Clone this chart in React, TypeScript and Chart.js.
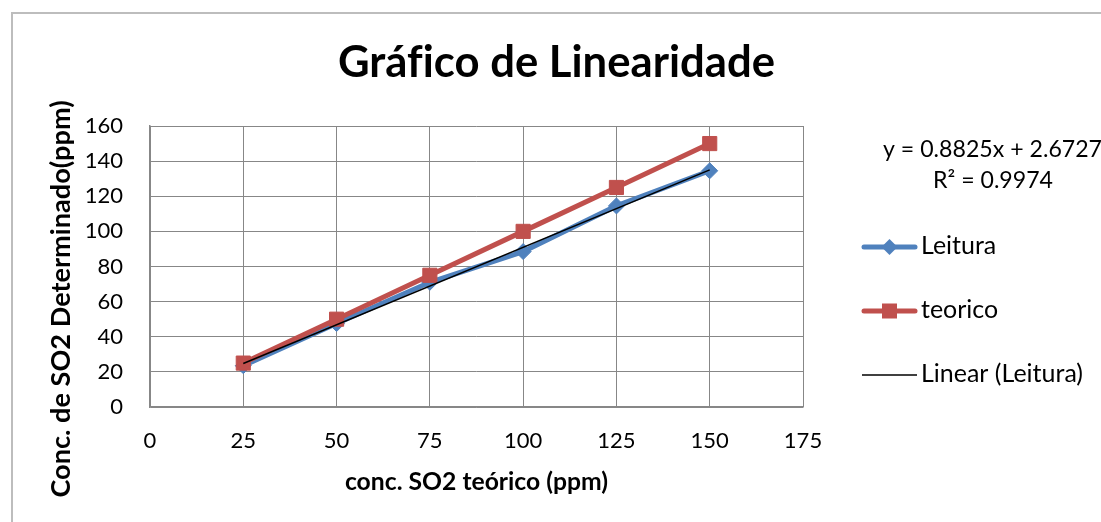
import React, { useEffect, useRef } from "react";
import { Chart, registerables } from "chart.js";

Chart.register(...registerables);

const xValues = [25, 50, 75, 100, 125, 150];
const leitura = [23.5, 47.5, 71, 88.5, 114.5, 134.5];
const teorico = [25, 50, 75, 100, 125, 150];
const trendCoef = [0.8825, 2.6727]; // slope, intercept (Excel trendline)
const trendRange = [25, 150];
const xTickRange = [0, 175, 25];
const yTickRange = [0, 160, 20];

const TITLE = "Gráfico de Linearidade";
const X_TITLE = "conc. SO2 teórico (ppm)";
const Y_TITLE = "Conc. de SO2 Determinado(ppm)";
const EQ1 = "y = 0.8825x + 2.6727";
const EQ2 = "R² = 0.9974";
const seriesNames = ["Leitura", "teorico", "Linear (Leitura)"];

const BLUE = "#4F81BD";
const RED = "#C0504D";
const GRID = "#878787";
const FONT = "Lato";

function fitSize(ctx: CanvasRenderingContext2D, text: string, weight: string, target: number) {
  ctx.font = `${weight} 100px ${FONT}`;
  const w = ctx.measureText(text).width;
  return (100 * target) / w;
}

const decorPlugin = {
  id: "decor",
  beforeDraw(chart: any) {
    const ctx = chart.ctx as CanvasRenderingContext2D;
    ctx.save();
    ctx.fillStyle = "#ffffff";
    ctx.fillRect(0, 0, chart.width, chart.height);
    ctx.strokeStyle = "#bdbdbd";
    ctx.lineWidth = 2;
    ctx.strokeRect(12, 13, chart.width + 20, chart.height + 20);
    ctx.restore();
  },
  afterDraw(chart: any) {
    const ctx = chart.ctx as CanvasRenderingContext2D;
    ctx.save();
    try {
      (ctx as any).letterSpacing = "0.01px";
    } catch (e) {}
    ctx.fillStyle = "#000";
    ctx.textAlign = "center";
    ctx.textBaseline = "alphabetic";
    // title
    let s = fitSize(ctx, TITLE, "bold", 437);
    ctx.font = `bold ${s}px ${FONT}`;
    ctx.fillText(TITLE, 556.5, 77);
    // x title
    s = fitSize(ctx, X_TITLE, "bold", 263);
    ctx.font = `bold ${s}px ${FONT}`;
    ctx.fillText(X_TITLE, 476.5, 490);
    // y title
    s = fitSize(ctx, Y_TITLE, "bold", 397);
    ctx.font = `bold ${s}px ${FONT}`;
    ctx.save();
    ctx.translate(70, 299);
    ctx.rotate(-Math.PI / 2);
    ctx.fillText(Y_TITLE, 0, 0);
    ctx.restore();
    // equation
    s = fitSize(ctx, EQ2, "normal", 120);
    ctx.font = `normal ${s}px ${FONT}`;
    ctx.textAlign = "left";
    ctx.fillText(EQ1, 883, 157);
    ctx.fillText(EQ2, 933, 188);
    // legend
    s = fitSize(ctx, seriesNames[2], "normal", 162);
    ctx.font = `normal ${s}px ${FONT}`;
    const items = [
      { name: seriesNames[0], y: 247, color: BLUE, lw: 5, marker: "diamond", base: 254 },
      { name: seriesNames[1], y: 311, color: RED, lw: 5, marker: "square", base: 318 },
      { name: seriesNames[2], y: 375, color: "#000", lw: 1.5, marker: "none", base: 382 },
    ];
    for (const it of items) {
      ctx.strokeStyle = it.color;
      ctx.lineWidth = it.lw;
      ctx.lineCap = it.marker === "none" ? "butt" : "round";
      ctx.beginPath();
      ctx.moveTo(it.marker === "none" ? 862 : 864, it.y);
      ctx.lineTo(it.marker === "none" ? 917 : 915, it.y);
      ctx.stroke();
      ctx.fillStyle = it.color;
      const cx = 889.5;
      if (it.marker === "diamond") {
        ctx.beginPath();
        ctx.moveTo(cx, it.y - 8);
        ctx.lineTo(cx + 8, it.y);
        ctx.lineTo(cx, it.y + 8);
        ctx.lineTo(cx - 8, it.y);
        ctx.closePath();
        ctx.fill();
      } else if (it.marker === "square") {
        ctx.fillRect(cx - 7.5, it.y - 7.5, 15, 15);
      }
      ctx.fillStyle = "#000";
      ctx.fillText(it.name, 921, it.base);
    }
    ctx.restore();
  },
};

export default function App() {
  const ref = useRef<HTMLCanvasElement | null>(null);
  useEffect(() => {
    if (!ref.current) return;
    const pts = (ys: number[]) => xValues.map((x, i) => ({ x, y: ys[i] }));
    const trend = trendRange.map((x) => ({ x, y: trendCoef[0] * x + trendCoef[1] }));
    const chart = new Chart(ref.current, {
      type: "scatter",
      data: {
        datasets: [
          {
            label: seriesNames[2],
            data: trend,
            showLine: true,
            borderColor: "#000",
            borderWidth: 1.5,
            pointRadius: 0,
            order: 0,
          },
          {
            label: seriesNames[1],
            data: pts(teorico),
            showLine: true,
            borderColor: RED,
            backgroundColor: RED,
            borderWidth: 5,
            pointStyle: "rect",
            pointRadius: 10,
            pointBorderWidth: 1,
            pointBorderColor: RED,
            order: 1,
          },
          {
            label: seriesNames[0],
            data: pts(leitura),
            showLine: true,
            borderColor: BLUE,
            backgroundColor: BLUE,
            borderWidth: 5,
            pointStyle: "rectRot",
            pointRadius: 8,
            pointBorderWidth: 1,
            pointBorderColor: BLUE,
            order: 2,
          },
        ],
      },
      options: {
        responsive: false,
        animation: false,
        devicePixelRatio: 1,
        layout: { padding: { left: 0, top: 126, right: 298, bottom: 0 } },
        plugins: { legend: { display: false }, tooltip: { enabled: false }, title: { display: false } },
        scales: {
          x: {
            type: "linear",
            min: xTickRange[0],
            max: xTickRange[1],
            ticks: { stepSize: xTickRange[2], color: "#000", font: { family: FONT, size: 22 }, padding: 21 },
            grid: { color: GRID, lineWidth: 1, drawTicks: false },
            border: { color: GRID, width: 1.5 },
            afterFit: (scale: any) => {
              scale.height = 115;
            },
          },
          y: {
            type: "linear",
            min: yTickRange[0],
            max: yTickRange[1],
            ticks: { stepSize: yTickRange[2], color: "#000", font: { family: FONT, size: 22 }, padding: 27 },
            grid: { color: GRID, lineWidth: 1, drawTicks: false },
            border: { color: GRID, width: 1.5 },
            afterFit: (scale: any) => {
              scale.width = 150;
            },
          },
        },
      },
      plugins: [decorPlugin],
    });
    return () => chart.destroy();
  }, []);
  return (
    <div style={{ position: "fixed", left: 0, top: 0, width: 1101, height: 522 }}>
      <canvas ref={ref} width={1101} height={522} style={{ width: 1101, height: 522, display: "block" }} />
    </div>
  );
}
